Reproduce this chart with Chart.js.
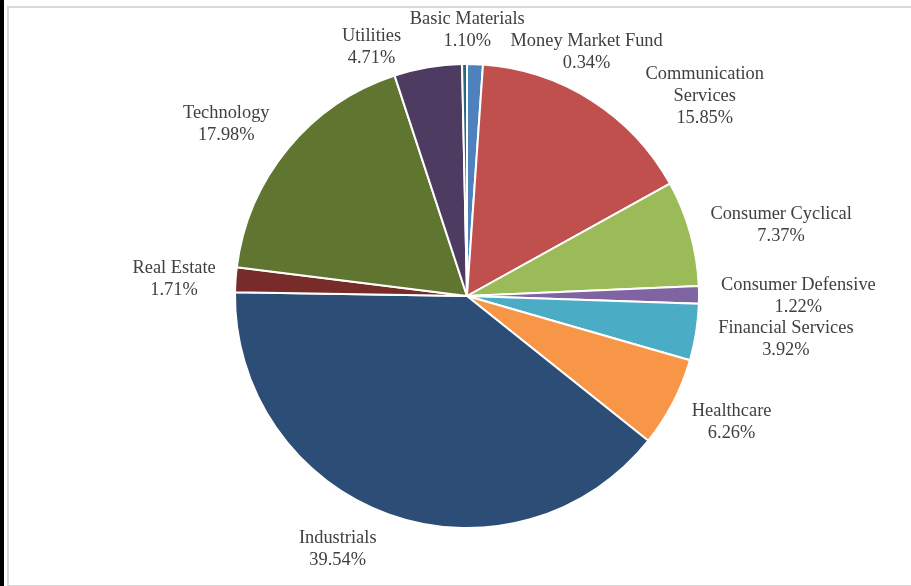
<!DOCTYPE html>
<html>
<head>
<meta charset="utf-8">
<script src="https://cdn.jsdelivr.net/npm/chart.js@4.4.1/dist/chart.umd.min.js"></script>
<style>
  body { margin: 0; background: #fff; }
  #wrap { position: relative; width: 911px; height: 586px; overflow: hidden; }
  #strip { position: absolute; left: 0; top: 0; width: 4px; height: 586px; background: #000; }
  #frame { position: absolute; left: 7px; top: 6px; width: 910px; height: 577px;
           border-left: 2px solid #d9d9d9; border-top: 2px solid #d9d9d9; border-bottom: 1px solid #d9d9d9; }
  canvas { position: absolute; left: 0; top: 0; }
</style>
</head>
<body>
<div id="wrap">
  <div id="strip"></div>
  <div id="frame"></div>
  <canvas id="myChart" width="911" height="586"></canvas>
</div>
<script>
// Sectors, clockwise from 12 o'clock
const sectors = [
    ["Basic Materials"],
    ["Communication", "Services"],
    ["Consumer Cyclical"],
    ["Consumer Defensive"],
    ["Financial Services"],
    ["Healthcare"],
    ["Industrials"],
    ["Real Estate"],
    ["Technology"],
    ["Utilities"],
    ["Money Market Fund"]
];
const weights = [1.10, 15.85, 7.37, 1.22, 3.92, 6.26, 39.54, 1.71, 17.98, 4.71, 0.34];

const sliceColors = ["#4f81bd", "#c0504d", "#9bbb59", "#8064a2", "#4bacc6", "#f79646",
                     "#2c4d75", "#772c2a", "#5f7530", "#4d3b62", "#276a7c"];

// fine tuning of label placement [dx, dy]
const labelNudge = [
    [-10, -4], [77, 30], [15, 0], [14, 1], [15, 2], [16, 6],
    [-35, 7], [-12, 2], [-22, -5], [-50, 9], [123, 18]
];

// Excel style outside-end labels
const outsideLabels = {
    id: "outsideLabels",
    afterDatasetsDraw(chart) {
        const ctx = chart.ctx;
        const meta = chart.getDatasetMeta(0);
        ctx.save();
        ctx.font = "18.4px 'Liberation Serif', 'Times New Roman', serif";
        ctx.fillStyle = "#404040";
        ctx.textAlign = "center";
        ctx.textBaseline = "middle";
        const lineH = 22;
        meta.data.forEach((arc, i) => {
            const p = arc.getProps(["x", "y", "startAngle", "endAngle", "outerRadius"], true);
            const mid = (p.startAngle + p.endAngle) / 2;
            const dx = Math.cos(mid), dy = Math.sin(mid);
            const lines = sectors[i].concat([weights[i].toFixed(2) + "%"]);
            const w = Math.max(...lines.map(t => ctx.measureText(t).width));
            const h = lines.length * lineH;
            const ax = p.x + (p.outerRadius + 8) * dx;
            const ay = p.y + (p.outerRadius + 8) * dy;
            const cx = ax + dx * w / 2 + labelNudge[i][0];
            const cy = ay + dy * h / 2 + labelNudge[i][1];
            lines.forEach((t, k) => {
                ctx.fillText(t, cx, cy - h / 2 + lineH / 2 + k * lineH);
            });
        });
        ctx.restore();
    }
};

new Chart("myChart", {
    type: "pie",
    data: {
        labels: sectors.map(s => s.join(" ")),
        datasets: [{
            data: weights,
            backgroundColor: sliceColors,
            borderColor: "#ffffff",
            borderWidth: 2
        }]
    },
    options: {
        responsive: false,
        animation: false,
        layout: {
            padding: { top: 63, bottom: 57, left: 234, right: 211 }
        },
        plugins: {
            legend: { display: false },
            tooltip: { enabled: false }
        }
    },
    plugins: [outsideLabels]
});
</script>
</body>
</html>
